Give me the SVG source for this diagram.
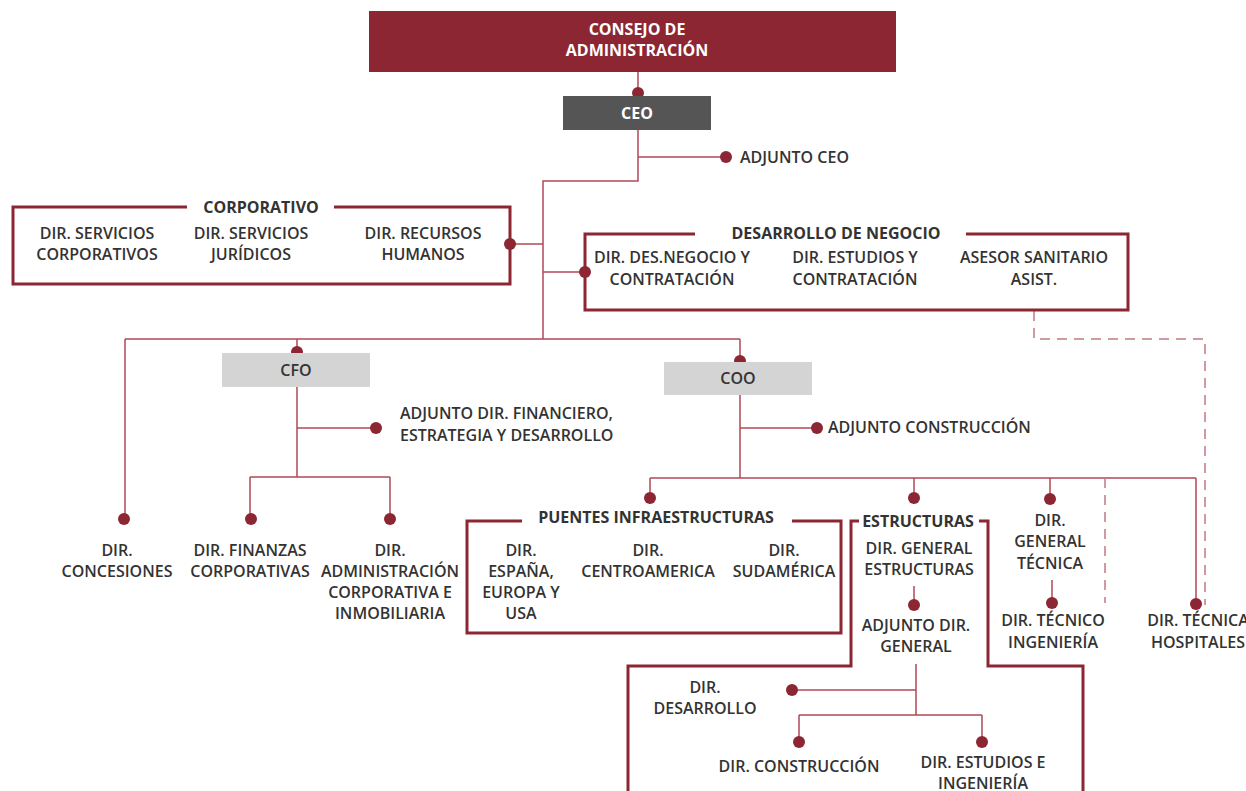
<svg xmlns="http://www.w3.org/2000/svg" width="1246" height="791" viewBox="0 0 1246 791">
<style>
.t{font-family:"Open Sans","Noto Sans","Liberation Sans",sans-serif;font-size:16px;font-weight:600;fill:#333;text-anchor:middle}
.tl{text-anchor:start}
.b{font-weight:700}
.w{fill:#fff;font-weight:700}
.c{fill:none;stroke:#b04a56;stroke-width:1.5}
.d{fill:none;stroke:#c27a83;stroke-width:1.5;stroke-dasharray:10 7}
.box{fill:none;stroke:#8c2633;stroke-width:3}
.dot{fill:#8c2633}
</style>
<rect width="1246" height="791" fill="#fff"/>
<g id="connectors">
<path class="c" d="M638 72V93M638 130V181H543V339M638 157H726M510 244H543M543 272H585M125 339H740M125 339V519M297 339V352M740 339V361"/>
<path class="c" d="M297 387V477M297 428H376M250 477H390M250 477V519M390 477V519"/>
<path class="c" d="M740 395V478M740 428H817M650 478H1196M650 478V498M914 478V498M1050 478V499M1196 478V604"/>
<path class="c" d="M914 586V605M916 664V715M792 690H916M799 715H982M799 715V742M982 715V742M1052 580V603"/>
<path class="d" d="M1034 311V339H1205V605M1105 478V603"/>
<g class="dot">
<circle cx="638" cy="93" r="6"/><circle cx="726" cy="157" r="6"/><circle cx="510" cy="244" r="6"/><circle cx="585" cy="272" r="6"/>
<circle cx="297" cy="352" r="6"/><circle cx="740" cy="361" r="6"/><circle cx="124" cy="519" r="6"/><circle cx="376" cy="428" r="6"/>
<circle cx="251" cy="519" r="6"/><circle cx="390" cy="519" r="6"/><circle cx="817" cy="428" r="6"/>
<circle cx="650" cy="498" r="6"/><circle cx="914" cy="498" r="6"/><circle cx="1050" cy="499" r="6"/><circle cx="1196" cy="604" r="6"/>
<circle cx="914" cy="605" r="6"/><circle cx="1052" cy="603" r="6"/><circle cx="792" cy="690" r="6"/><circle cx="799" cy="742" r="6"/><circle cx="982" cy="742" r="6"/>
</g>
</g>
<g id="consejo">
<rect x="369" y="11" width="527" height="61" fill="#8c2633"/>
<text class="t w" x="637" y="35">CONSEJO DE</text>
<text class="t w" x="637" y="56">ADMINISTRACIÓN</text>
</g>
<g id="ceo">
<rect x="563" y="96" width="148" height="34" fill="#555"/>
<text class="t w" x="637" y="119">CEO</text>
</g>
<g id="adjunto-ceo"><text class="t tl" x="740" y="163">ADJUNTO CEO</text></g>
<g id="corporativo">
<path class="box" d="M187 207H13V284H510V207H334"/>
<text class="t b" x="261" y="213">CORPORATIVO</text>
<text class="t" x="97" y="239">DIR. SERVICIOS</text><text class="t" x="97" y="260">CORPORATIVOS</text>
<text class="t" x="251" y="239">DIR. SERVICIOS</text><text class="t" x="251" y="260">JURÍDICOS</text>
<text class="t" x="423" y="239">DIR. RECURSOS</text><text class="t" x="423" y="260">HUMANOS</text>
</g>
<g id="desarrollo-negocio">
<path class="box" d="M695 234H585V310H1128V234H966"/>
<text class="t b" x="836" y="239">DESARROLLO DE NEGOCIO</text>
<text class="t" x="672" y="263">DIR. DES.NEGOCIO Y</text><text class="t" x="672" y="285">CONTRATACIÓN</text>
<text class="t" x="855" y="263">DIR. ESTUDIOS Y</text><text class="t" x="855" y="285">CONTRATACIÓN</text>
<text class="t" x="1034" y="263">ASESOR SANITARIO</text><text class="t" x="1034" y="285">ASIST.</text>
</g>
<g id="cfo">
<rect x="222" y="353" width="148" height="34" fill="#d4d4d4"/>
<text class="t" x="296" y="376">CFO</text>
</g>
<g id="coo">
<rect x="664" y="362" width="148" height="33" fill="#d4d4d4"/>
<text class="t" x="738" y="384">COO</text>
</g>
<g id="adjunto-financiero">
<text class="t tl" x="400" y="419">ADJUNTO DIR. FINANCIERO,</text>
<text class="t tl" x="400" y="441">ESTRATEGIA Y DESARROLLO</text>
</g>
<g id="adjunto-construccion"><text class="t tl" x="828" y="433">ADJUNTO CONSTRUCCIÓN</text></g>
<g id="concesiones"><text class="t" x="117" y="556">DIR.</text><text class="t" x="117" y="577">CONCESIONES</text></g>
<g id="finanzas"><text class="t" x="250" y="556">DIR. FINANZAS</text><text class="t" x="250" y="577">CORPORATIVAS</text></g>
<g id="administracion">
<text class="t" x="390" y="556">DIR.</text><text class="t" x="390" y="577">ADMINISTRACIÓN</text>
<text class="t" x="390" y="598">CORPORATIVA E</text><text class="t" x="390" y="619">INMOBILIARIA</text>
</g>
<g id="puentes">
<path class="box" d="M522 521H467V633H841V521H792"/>
<text class="t b" x="656" y="523">PUENTES INFRAESTRUCTURAS</text>
<text class="t" x="521" y="556">DIR.</text><text class="t" x="521" y="577">ESPAÑA,</text>
<text class="t" x="521" y="598">EUROPA Y</text><text class="t" x="521" y="619">USA</text>
<text class="t" x="648" y="556">DIR.</text><text class="t" x="648" y="577">CENTROAMERICA</text>
<text class="t" x="784" y="556">DIR.</text><text class="t" x="784" y="577">SUDAMÉRICA</text>
</g>
<g id="estructuras">
<path class="box" d="M859 521H851V666H628V791M979 521H988V666H1083V791"/>
<text class="t b" x="918" y="527">ESTRUCTURAS</text>
<text class="t" x="919" y="554">DIR. GENERAL</text><text class="t" x="919" y="575">ESTRUCTURAS</text>
<text class="t" x="916" y="631">ADJUNTO DIR.</text><text class="t" x="916" y="652">GENERAL</text>
<text class="t" x="705" y="693">DIR.</text><text class="t" x="705" y="714">DESARROLLO</text>
<text class="t" x="799" y="772">DIR. CONSTRUCCIÓN</text>
<text class="t" x="983" y="768">DIR. ESTUDIOS E</text><text class="t" x="983" y="789">INGENIERÍA</text>
</g>
<g id="general-tecnica">
<text class="t" x="1050" y="526">DIR.</text><text class="t" x="1050" y="547">GENERAL</text><text class="t" x="1050" y="569">TÉCNICA</text>
</g>
<g id="tecnico-ingenieria"><text class="t" x="1053" y="626">DIR. TÉCNICO</text><text class="t" x="1053" y="648">INGENIERÍA</text></g>
<g id="tecnica-hospitales"><text class="t" x="1198" y="626">DIR. TÉCNICA</text><text class="t" x="1198" y="648">HOSPITALES</text></g>
</svg>
